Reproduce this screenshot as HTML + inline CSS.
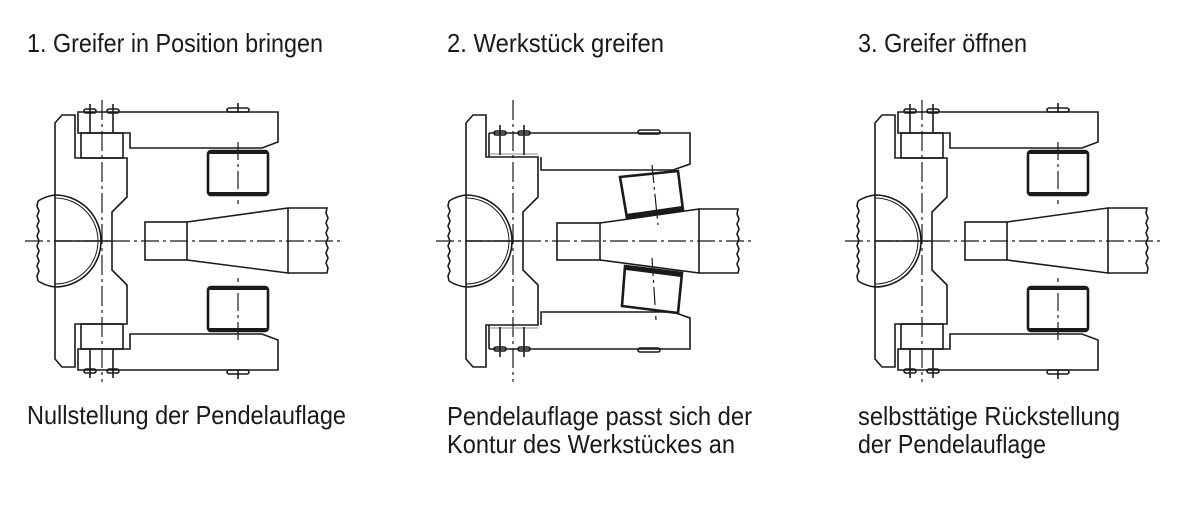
<!DOCTYPE html>
<html><head><meta charset="utf-8"><style>
html,body{margin:0;padding:0;background:#fff;}
svg{display:block;}
text{font-family:"Liberation Sans",sans-serif;font-size:26px;fill:#1a1a1a;}
</style></head><body>
<svg width="1200" height="519" viewBox="0 0 1200 519" xmlns="http://www.w3.org/2000/svg">
<defs>
<g id="half" fill="none" stroke="#1a1a1a" stroke-width="1.6">
  <path d="M55,241 L55,123 L62,115 L75,115 L75,158 L127,158 L127,197 L112,212 L112,241"/>
  <path d="M78,112 L78,133 L130,133 L130,148 L262,148 L278,142 L278,112 Z"/>
  <rect x="81" y="133" width="42" height="25"/>
  <line x1="90" y1="104" x2="90" y2="133"/>
  <line x1="113" y1="104" x2="113" y2="133"/>
  <rect x="84" y="109" width="12" height="4" rx="2"/>
  <rect x="107" y="109" width="12" height="4" rx="2"/>
  <rect x="227" y="108" width="22" height="4" rx="2"/>
  <line x1="238" y1="103" x2="238" y2="112"/>
  <rect x="208" y="151" width="60" height="44" rx="3" stroke-width="2.6"/>
  <line x1="209" y1="152" x2="267" y2="152" stroke-width="4"/>
  <line x1="209" y1="194" x2="267" y2="194" stroke-width="4"/>
  <line x1="238" y1="142" x2="238" y2="204" stroke-dasharray="18,4,3,4" stroke-width="1.2"/>
</g>
<g id="common" fill="none" stroke="#1a1a1a" stroke-width="1.6">
  <path d="M38,201 Q46,196 55,195 A46,46 0 0 1 101,241 A46,46 0 0 1 55,287 Q46,286 38,281"/>
  <path d="M55,198 A43,43 0 0 1 98,241 A43,43 0 0 1 55,284" stroke-width="1"/>
  <path d="M38,201 l-1,5 l2,5 l-2,5 l2,5 l-2,5 l2,5 l-2,5 l2,5 l-2,5 l2,5 l-2,5 l2,5 l-2,5 l2,5 l-2,5 l1,5"/>
  <line x1="55" y1="241" x2="112" y2="241"/>
  <rect x="145" y="222" width="42" height="38"/>
  <path d="M187,222 L288,208 L288,273 L187,260"/>
  <path d="M288,208 L327,208 l-1,5 l2,5 l-2,5 l2,5 l-2,5 l2,5 l-2,5 l2,5 l-2,5 l2,5 l-2,5 l2,5 l-1,5 L288,273"/>
  <line x1="25" y1="241" x2="342" y2="241" stroke-width="1.2" stroke-dasharray="18,4,3,4"/>
  <line x1="102" y1="100" x2="102" y2="382" stroke-width="1.2" stroke-dasharray="20,4,3,4"/>
</g>
</defs>

<use href="#half"/>
<use href="#half" transform="translate(0,482) scale(1,-1)"/>
<use href="#common"/>

<g transform="translate(820,0)">
<use href="#half"/>
<use href="#half" transform="translate(0,482) scale(1,-1)"/>
<use href="#common"/>
</g>

<g fill="none" stroke="#1a1a1a" stroke-width="1.6">
  <g transform="translate(411,0)">
    <path d="M55,241 L55,123 L62,115 L75,115 L75,157 L127,157 L127,197 L112,212 L112,270 L127,285 L127,325 L75,325 L75,367 L62,367 L55,359 Z"/>
    <path d="M38,201 Q46,196 55,195 A46,46 0 0 1 101,241 A46,46 0 0 1 55,287 Q46,286 38,281"/>
    <path d="M55,198 A43,43 0 0 1 98,241 A43,43 0 0 1 55,284" stroke-width="1"/>
    <path d="M38,201 l-1,5 l2,5 l-2,5 l2,5 l-2,5 l2,5 l-2,5 l2,5 l-2,5 l2,5 l-2,5 l2,5 l-2,5 l2,5 l-2,5 l1,5"/>
    <line x1="55" y1="241" x2="112" y2="241"/>
    <rect x="146" y="223" width="43" height="37"/>
    <path d="M189,223 L288,209 L288,273 L189,260"/>
    <path d="M288,209 L327,209 l-1,5 l2,5 l-2,5 l2,5 l-2,5 l2,5 l-2,5 l2,5 l-2,5 l2,5 l-2,5 l2,5 l-1,4 L288,273"/>
    <line x1="25" y1="241" x2="342" y2="241" stroke-width="1.2" stroke-dasharray="18,4,3,4"/>
    <line x1="102" y1="100" x2="102" y2="382" stroke-width="1.2" stroke-dasharray="20,4,3,4"/>
  </g>
  <path d="M489,133 L489,157 M541,157 L541,170 L673,170 L690,164 L690,133 L489,133"/>
  <line x1="489" y1="154" x2="538" y2="154" stroke="#888" stroke-width="1"/>
  <line x1="500" y1="125" x2="500" y2="155"/><line x1="524" y1="125" x2="524" y2="155"/>
  <rect x="494" y="131" width="12" height="4" rx="2"/><rect x="518" y="131" width="12" height="4" rx="2"/>
  <rect x="638" y="130" width="22" height="4" rx="2"/>
  <path d="M489,349 L489,325 M541,325 L541,312 L673,312 L690,318 L690,349 L489,349"/>
  <line x1="489" y1="328" x2="538" y2="328" stroke="#888" stroke-width="1"/>
  <line x1="500" y1="327" x2="500" y2="357"/><line x1="524" y1="327" x2="524" y2="357"/>
  <rect x="494" y="347" width="12" height="4" rx="2"/><rect x="518" y="347" width="12" height="4" rx="2"/>
  <rect x="638" y="348" width="22" height="4" rx="2"/>
  <path d="M620,177 L678,171 L683,210 L627,218 Z" stroke-width="2.6"/>
  <line x1="626" y1="216" x2="682" y2="208" stroke-width="4"/>
  <line x1="652" y1="165" x2="658" y2="225" stroke-width="1.2" stroke-dasharray="18,4,3,4"/>
  <path d="M625,266 L682,273 L678,313 L622,306 Z" stroke-width="2.6"/>
  <line x1="626" y1="268" x2="681" y2="275" stroke-width="4"/>
  <line x1="652" y1="258" x2="656" y2="320" stroke-width="1.2" stroke-dasharray="18,4,3,4"/>
</g>

<text x="27" y="52" textLength="296" lengthAdjust="spacingAndGlyphs">1. Greifer in Position bringen</text>
<text x="447" y="52" textLength="217" lengthAdjust="spacingAndGlyphs">2. Werkstück greifen</text>
<text x="858" y="52" textLength="169" lengthAdjust="spacingAndGlyphs">3. Greifer öffnen</text>
<text x="27" y="424" textLength="319" lengthAdjust="spacingAndGlyphs">Nullstellung der Pendelauflage</text>
<text x="447" y="425" textLength="305" lengthAdjust="spacingAndGlyphs">Pendelauflage passt sich der</text>
<text x="447" y="453" textLength="288" lengthAdjust="spacingAndGlyphs">Kontur des Werkstückes an</text>
<text x="858" y="425" textLength="262" lengthAdjust="spacingAndGlyphs">selbsttätige Rückstellung</text>
<text x="858" y="453" textLength="188" lengthAdjust="spacingAndGlyphs">der Pendelauflage</text>
</svg>
</body></html>
